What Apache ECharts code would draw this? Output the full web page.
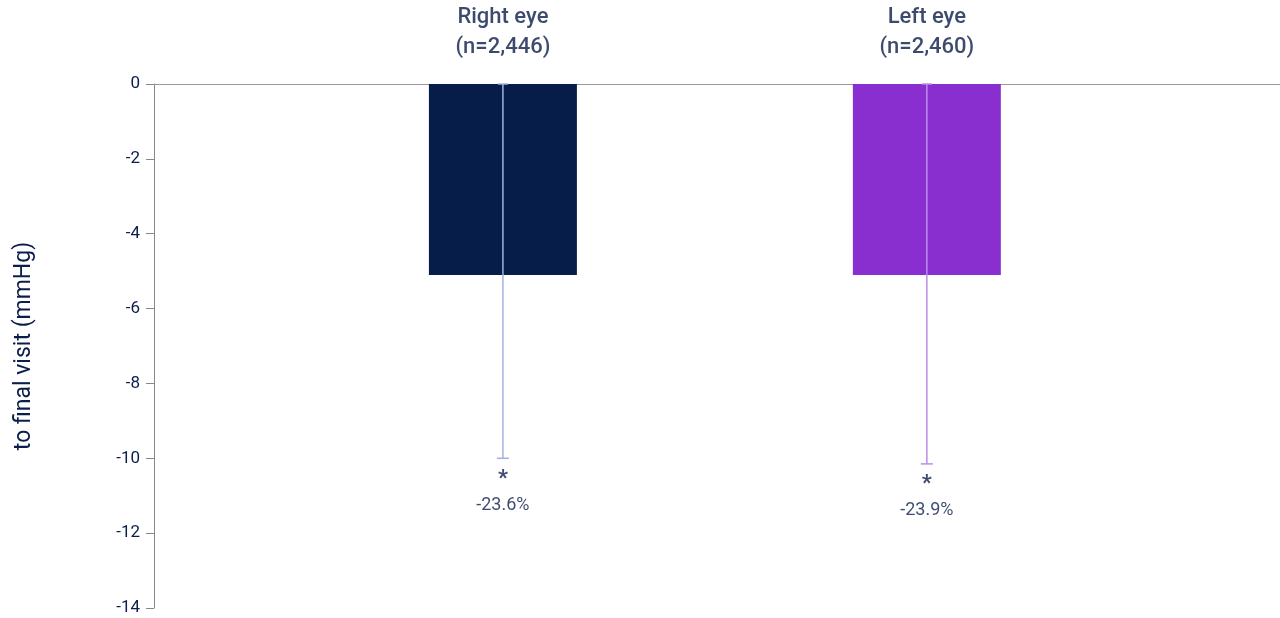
<!doctype html>
<html>
<head>
<meta charset="utf-8">
<title>Mean IOP reduction</title>
<style>html,body{margin:0;padding:0;background:#fff}#main{width:1280px;height:618px}</style>
</head>
<body>
<div id="main"></div>
<script src="https://cdn.jsdelivr.net/npm/echarts@6/dist/echarts.min.js"></script>
<script>
var groups = ['Right eye\n(n=2,446)', 'Left eye\n(n=2,460)'];
var xPos = [0.823, 1.823];
var means = [-5.1, -5.1];
var errLow = [-10.0, -10.15];
var pctLabels = ['{s|*}\n-23.6%', '{s|*}\n-23.9%'];
var barColors = ['#071d49', '#8a2fcf'];
var errColors = ['#a3b1dd', '#bb8ee8'];
var yTicks = { min: -14, max: 0, interval: 2 };
var textColor = '#0b1d4a';

var chart = echarts.init(document.getElementById('main'));

chart.setOption({
    textStyle: { fontFamily: 'Roboto' },
    grid: { left: 154, right: 0, top: 84, bottom: 10, containLabel: false, outerBoundsMode: 'none' },
    xAxis: {
        type: 'value', min: 0, max: 2.656,
        axisLine: { onZero: true, lineStyle: { color: '#999' } },
        axisTick: { show: false }, axisLabel: { show: false }, splitLine: { show: false }
    },
    yAxis: {
        type: 'value', min: yTicks.min, max: yTicks.max, interval: yTicks.interval,
        axisLine: { show: true, lineStyle: { color: '#888' } },
        axisTick: { show: true, length: 8, lineStyle: { color: '#888' } },
        axisLabel: { color: textColor, fontSize: 17, margin: 14 },
        splitLine: { show: false },
        name: 'Mean IOP reduction from baseline\nto final visit (mmHg)',
        nameLocation: 'middle', nameGap: 115, nameRotate: 90,
        nameTextStyle: { color: textColor, fontSize: 23, lineHeight: 30 }
    },
    series: [{
        type: 'bar',
        barWidth: 148,
        data: means.map(function (v, i) {
            return { value: [xPos[i], v], itemStyle: { color: barColors[i] } };
        })
    }, {
        type: 'custom',
        z: 5,
        data: errLow.map(function (v, i) { return [xPos[i], 0, v]; }),
        renderItem: function (params, api) {
            var top = api.coord([api.value(0), api.value(1)]);
            var bot = api.coord([api.value(0), api.value(2)]);
            var c = errColors[params.dataIndex];
            var style = { stroke: c, lineWidth: 1.5 };
            return { type: 'group', children: [
                { type: 'line', shape: { x1: top[0], y1: top[1], x2: bot[0], y2: bot[1] }, style: style },
                { type: 'line', shape: { x1: top[0] - 5, y1: top[1], x2: top[0] + 5, y2: top[1] }, style: style },
                { type: 'line', shape: { x1: bot[0] - 6, y1: bot[1], x2: bot[0] + 6, y2: bot[1] }, style: style }
            ] };
        }
    }, {
        type: 'scatter',
        symbolSize: 0,
        data: errLow.map(function (v, i) { return [xPos[i], v]; }),
        label: {
            show: true, position: 'bottom', distance: 8,
            formatter: function (p) { return pctLabels[p.dataIndex]; },
            color: textColor, fontSize: 18, lineHeight: 26, align: 'center',
            rich: { s: { color: textColor, fontSize: 22, fontWeight: 'bold', lineHeight: 26 } }
        }
    }, {
        type: 'scatter',
        symbolSize: 0,
        data: xPos.map(function (x) { return [x, 0]; }),
        label: {
            show: true, position: 'top', distance: 22,
            formatter: function (p) { return groups[p.dataIndex]; },
            color: textColor, fontSize: 22, fontWeight: 500, lineHeight: 30, align: 'center'
        }
    }]
});

window.onresize = chart.resize;
</script>
</body>
</html>
